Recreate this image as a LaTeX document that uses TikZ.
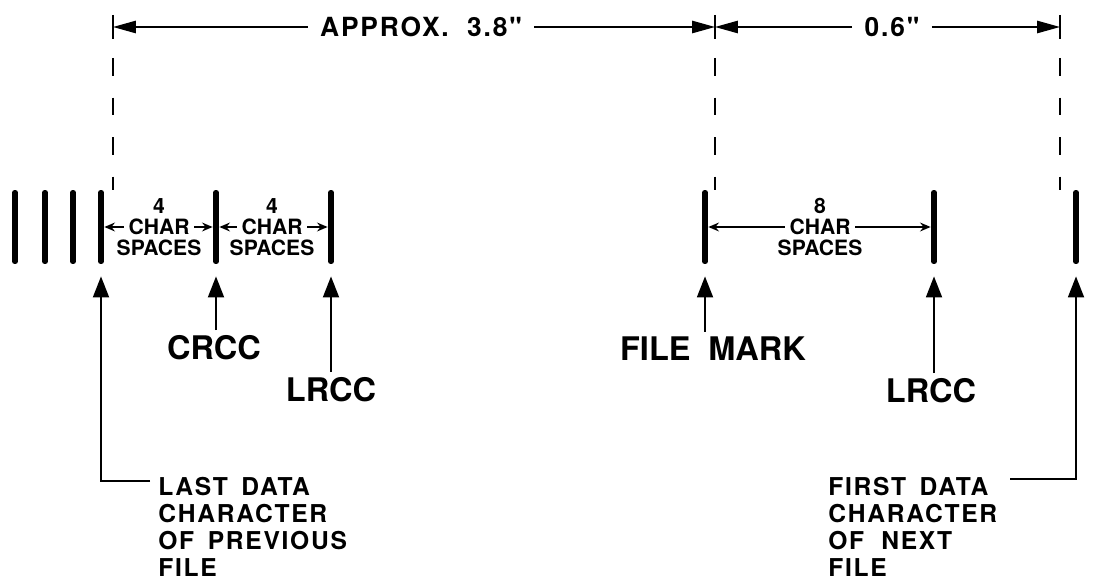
\documentclass[tikz,border=0pt]{standalone}
\usepackage{fontspec}
\setmainfont{TeX Gyre Heros}
\newfontfamily\leroy{TeX Gyre Heros}
\newfontfamily\leroywide{TeX Gyre Heros}[LetterSpace=7]
\usetikzlibrary{arrows.meta,positioning}
\newcommand{\tapebar}[2]{%
  \node[tapebar] (#1) at (#2,227) {};%
}
\tikzset{
  tapebar/.style={rectangle, fill=black, inner sep=0pt, minimum width=3.4pt,
    minimum height=1.48cm, rounded corners=1.5pt},
  dimarr/.style={-{Triangle[length=13pt,width=7pt]}, line width=0.9pt},
  extline/.style={line width=1.1pt, dash pattern=on 10pt off 12.5pt},
  csarr/.style={-{Stealth[length=6pt,width=5pt]}, line width=1.2pt},
  uparr/.style={-{Triangle[length=12pt,width=9pt]}, line width=1.4pt},
  dimlbl/.style={font=\leroywide\bfseries\fontsize{15}{18}\selectfont, inner xsep=7pt, inner ysep=0pt},
  cslbl/.style={font=\leroy\bfseries\fontsize{12}{14}\selectfont, inner xsep=2.5pt, inner ysep=0pt},
  biglbl/.style={font=\leroy\bfseries\fontsize{18.5}{22}\selectfont, inner sep=3pt},
  notelbl/.style={font=\leroywide\bfseries\fontsize{14}{15.4}\selectfont, align=left, inner sep=0pt}
}

\begin{document}
\begin{tikzpicture}[x=0.02cm, y=-0.02cm]
  \useasboundingbox (0,0) rectangle (1099,584);
  % records at the end of the previous file
  \foreach \x [count=\i] in {15,45,73}{\node[tapebar] (old\i) at (\x,227) {};}
  \tapebar{last}{101}
  \tapebar{crc}{216}
  \tapebar{lrc}{331}
  \tapebar{fm}{705}
  \tapebar{lrcb}{934}
  \tapebar{first}{1076}

  % overall dimensions
  \coordinate (tl) at (113,27);
  \coordinate (tm) at (715,27);
  \coordinate (tr) at (1060,27);
  \foreach \t in {tl,tm,tr}{%
    \draw[line width=0.9pt] ([yshift=0.24cm]\t) -- ([yshift=-0.24cm]\t);
    \draw[extline] ([yshift=-0.62cm]\t) -- (\t |- last.north);
  }
  \node[dimlbl] (approx) at (421,27) {APPROX.\ \ 3.8"};
  \node[dimlbl] (sixt) at (892,27) {0.6"};
  \draw[dimarr] (approx) -- (tl);
  \draw[dimarr] (approx) -- (tm);
  \draw[dimarr] (sixt) -- (tm);
  \draw[dimarr] (sixt) -- (tr);

  % character spaces
  \node[cslbl] (cs1) at (159,227) {CHAR};
  \node[cslbl, above=2.6pt of cs1] (cs1n) {4};
  \node[cslbl, below=2.6pt of cs1] (cs1s) {SPACES};
  \node[cslbl] (cs2) at (272,227) {CHAR};
  \node[cslbl, above=2.6pt of cs2] (cs2n) {4};
  \node[cslbl, below=2.6pt of cs2] (cs2s) {SPACES};
  \node[cslbl] (cs3) at (820,227) {CHAR};
  \node[cslbl, above=2.6pt of cs3] (cs3n) {8};
  \node[cslbl, below=2.6pt of cs3] (cs3s) {SPACES};
  \draw[csarr] (cs1) -- (last);
  \draw[csarr] (cs1) -- (crc);
  \draw[csarr] (cs2) -- (crc);
  \draw[csarr] (cs2) -- (lrc);
  \draw[csarr] (cs3) -- (fm);
  \draw[csarr] (cs3) -- (lrcb);

  % pointers
  \node[biglbl] (crcc) at (214,348) {CRCC};
  \node[biglbl] (lrcca) at (331,390) {LRCC};
  \node[biglbl] (fmark) at (713,349) {FILE\hspace{0.55em}MARK};
  \node[biglbl] (lrccb) at (931,391) {LRCC};
  \draw[uparr] (crc |- crcc.north) -- ([yshift=-0.24cm]crc.south);
  \draw[uparr] (lrc |- lrcca.north) -- ([yshift=-0.24cm]lrc.south);
  \draw[uparr] (fm |- fmark.north) -- ([yshift=-0.24cm]fm.south);
  \draw[uparr] (lrcb |- lrccb.north) -- ([yshift=-0.24cm]lrcb.south);

  \node[notelbl, anchor=north west] (lastdata) at (158,477)
    {LAST\hspace{0.55em}DATA\\CHARACTER\\OF\hspace{0.55em}PREVIOUS\\FILE};
  \node[notelbl, anchor=north west] (firstdata) at (828,477)
    {FIRST\hspace{0.55em}DATA\\CHARACTER\\OF\ \ NEXT\\FILE};
  \draw[uparr] ([shift={(-0.16cm,-0.08cm)}]lastdata.north west) -| ([yshift=-0.24cm]last.south);
  \draw[uparr] ([shift={(0.26cm,-0.04cm)}]firstdata.north east) -| ([yshift=-0.24cm]first.south);
\end{tikzpicture}
\end{document}
